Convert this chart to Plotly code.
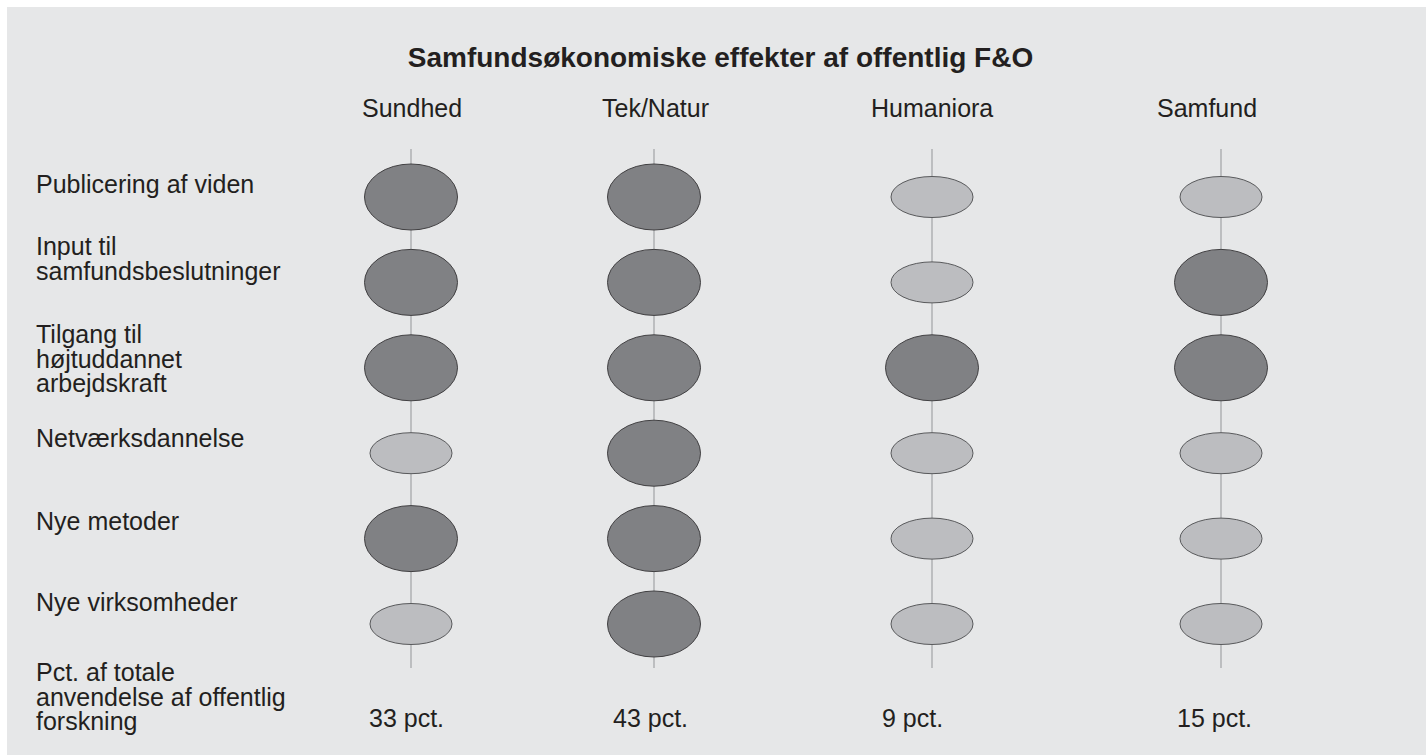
import plotly.graph_objects as go

# ---------------- data ----------------
TITLE = "Samfundsøkonomiske effekter af offentlig F&O"
CATEGORIES = ["Sundhed", "Tek/Natur", "Humaniora", "Samfund"]
EFFECTS = [
    "Publicering af viden",
    "Input til<br>samfundsbeslutninger",
    "Tilgang til<br>højtuddannet<br>arbejdskraft",
    "Netværksdannelse",
    "Nye metoder",
    "Nye virksomheder",
]
PCT_LABEL = "Pct. af totale<br>anvendelse af offentlig<br>forskning"
# effect level per category, one entry per effect row ("høj" = large/dark, "lav" = small/light)
SUNDHED = ["høj", "høj", "høj", "lav", "høj", "lav"]
TEK_NATUR = ["høj", "høj", "høj", "høj", "høj", "høj"]
HUMANIORA = ["lav", "lav", "høj", "lav", "lav", "lav"]
SAMFUND = ["lav", "høj", "høj", "lav", "lav", "lav"]
PCT = [33, 43, 9, 15]

LEVELS = [SUNDHED, TEK_NATUR, HUMANIORA, SAMFUND]

# ---------------- layout / style ----------------
W, H = 1426, 755
FONT = "Liberation Sans, Arial, Helvetica, sans-serif"
TXT = "#231f20"
BG = "#e6e7e8"
COL_X = [411, 654, 932, 1221]          # column line positions
HEAD_X = [412, 655, 932, 1207]         # header text centres
PCT_X = [406, 650, 912, 1214]          # percent text centres
ROW_Y0, ROW_STEP = 197, 85.4
LINE_TOP, LINE_BOTTOM = 149, 668
LABEL_X = 34
LINE_H = 24.3
LABEL_BASE = [192.5, 255, 343, 446.7, 530, 611]
PCT_LABEL_BASE = 681
HEAD_BASE = 117
PCT_BASE = 727
STYLE = {
    "høj": dict(w=93, h=66, fill="#808184", line="#414042"),
    "lav": dict(w=82, h=41, fill="#bcbdc0", line="#58595b"),
}

fig = go.Figure()

# vertical guide lines
for cx in COL_X:
    fig.add_trace(go.Scatter(
        x=[cx, cx], y=[LINE_TOP, LINE_BOTTOM], mode="lines",
        line=dict(color="#939598", width=1), hoverinfo="skip", showlegend=False))

# ellipses
for ci, levels in enumerate(LEVELS):
    for ri, lev in enumerate(levels):
        st = STYLE[lev]
        cy = ROW_Y0 + ri * ROW_STEP
        cx = COL_X[ci]
        fig.add_shape(type="circle", xref="x", yref="y",
                      x0=cx - st["w"] / 2, x1=cx + st["w"] / 2,
                      y0=cy - st["h"] / 2, y1=cy + st["h"] / 2,
                      fillcolor=st["fill"], line=dict(color=st["line"], width=1),
                      layer="above")

annotations = []


def add_text(x, base, text, anchor="left", size=25, weight="normal"):
    annotations.append(dict(
        x=x, y=base - 0.347 * size, xref="x", yref="y", text=text, showarrow=False,
        xanchor=anchor, yanchor="middle",
        font=dict(family=FONT, size=size, color=TXT, weight=weight)))


# column headers
for name, hx in zip(CATEGORIES, HEAD_X):
    add_text(hx, HEAD_BASE, name, anchor="center")

# row labels (one annotation per line, for tight line spacing)
for label, base in zip(EFFECTS, LABEL_BASE):
    for k, line in enumerate(label.split("<br>")):
        add_text(LABEL_X, base + k * LINE_H, line)
for k, line in enumerate(PCT_LABEL.split("<br>")):
    add_text(LABEL_X, PCT_LABEL_BASE + k * LINE_H, line)

# percentages
for p, px in zip(PCT, PCT_X):
    add_text(px, PCT_BASE, f"{p} pct.", anchor="center")

fig.update_layout(
    width=W, height=H,
    margin=dict(l=7, t=7, r=0, b=0),
    paper_bgcolor="white", plot_bgcolor=BG,
    title=dict(text=TITLE, x=(720.5 - 7) / (W - 7), xanchor="center", xref="paper",
               y=1 - 57.5 / H, yanchor="middle", yref="container",
               font=dict(family=FONT, size=28, color=TXT, weight="bold")),
    xaxis=dict(range=[7, W], visible=False, fixedrange=True),
    yaxis=dict(range=[H, 7], visible=False, fixedrange=True),
    annotations=annotations,
    showlegend=False,
)

fig.write_html(
    "out.html",
    config={"displayModeBar": False},
    post_script="document.body.style.margin='0';document.body.style.overflow='hidden';",
)
